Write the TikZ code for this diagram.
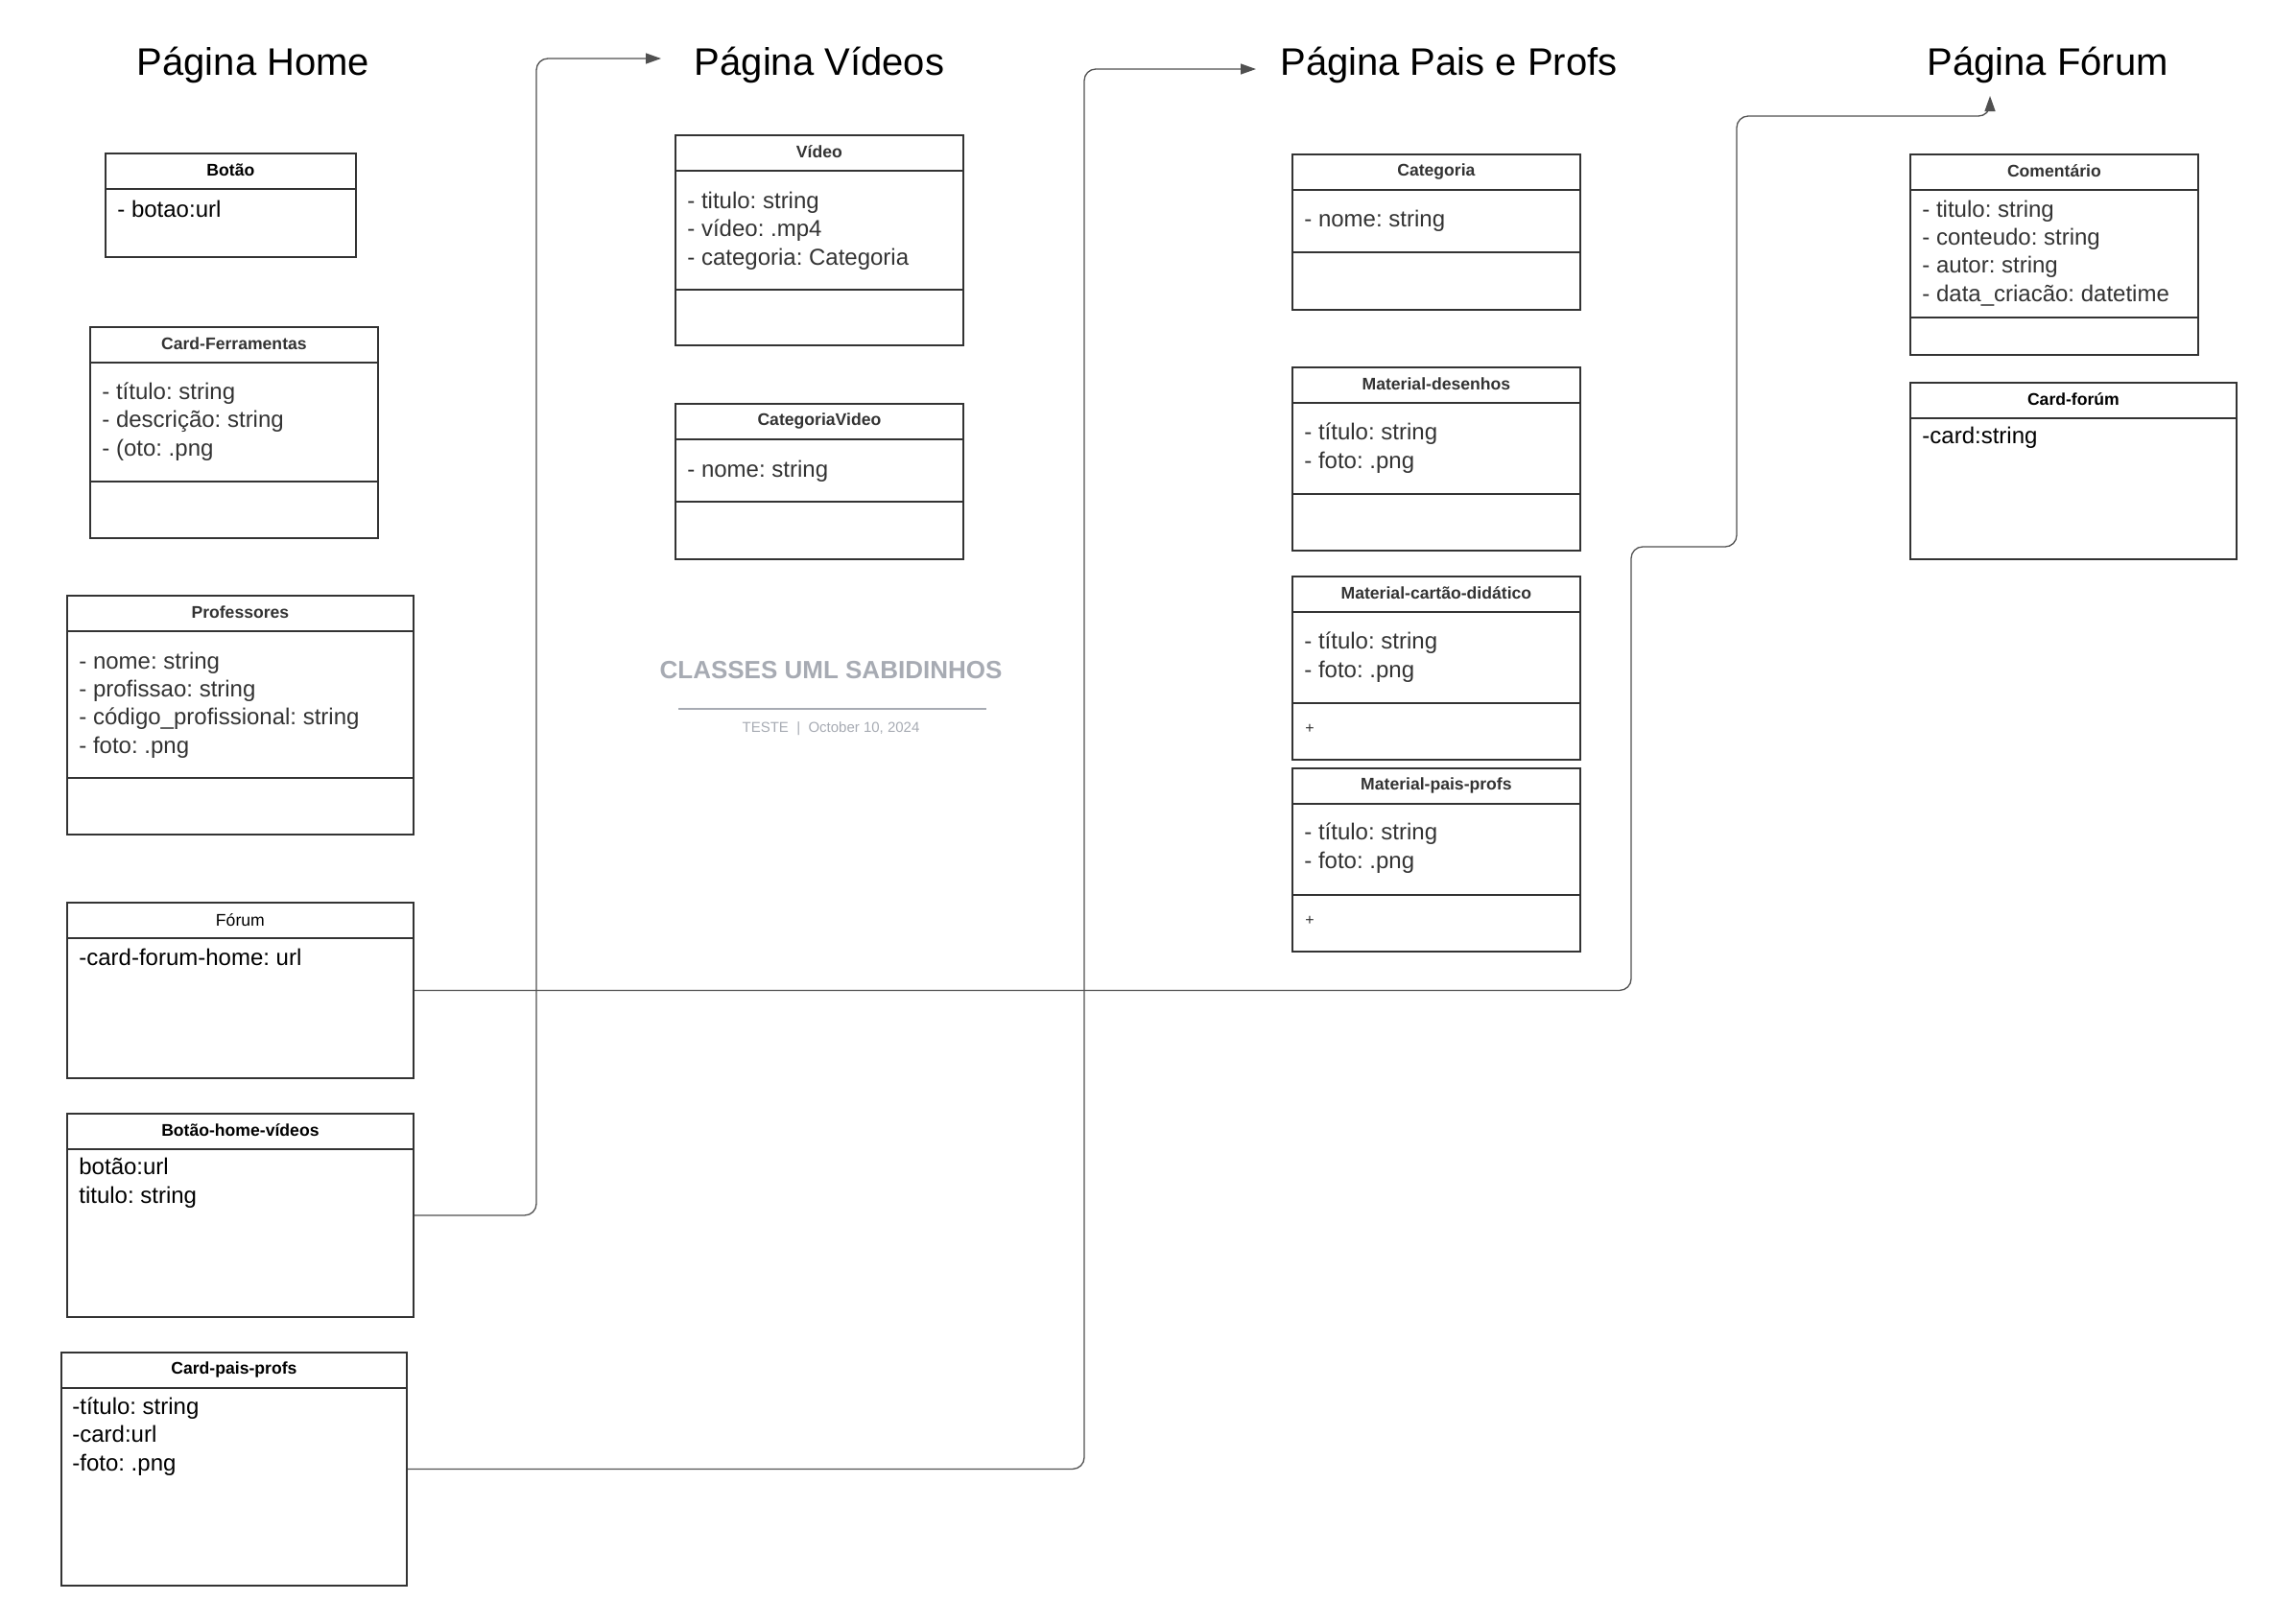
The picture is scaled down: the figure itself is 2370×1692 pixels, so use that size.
\documentclass[tikz,border=0pt]{standalone}
\usepackage{fontspec}
\setmainfont{Liberation Sans}
\usetikzlibrary{arrows.meta}
\frenchspacing

\definecolor{umlgray}{HTML}{333333}
\definecolor{linkgray}{HTML}{505050}
\definecolor{notegray}{HTML}{A7ABB3}

% class box: name, left, top, width, height, name style, class name
\newcommand{\umlclass}[7]{%
  \node[classbox, minimum width=#4*0.5pt, minimum height=#5*0.5pt] (#1) at (#2,#3) {};
  \draw[boxline] ([yshift=-19pt]#1.north west) -- ([yshift=-19pt]#1.north east);
  \node[#6] (#1-name) at ([yshift=-9.3pt]#1.north) {#7};
}
% second divider, offset from the top in px
\newcommand{\umlsplit}[2]{%
  \draw[boxline] ([yshift=-#2*0.5pt]#1.north west) -- ([yshift=-#2*0.5pt]#1.north east);
}

\begin{document}
\begin{tikzpicture}[x=0.5pt, y=-0.5pt,
  classbox/.style={draw=umlgray, line width=0.9pt, inner sep=0pt, anchor=north west},
  boxline/.style={draw=umlgray, line width=0.9pt},
  classname/.style={font=\fontsize{8.8pt}{10pt}\selectfont\bfseries, text=umlgray},
  % anchored at the baseline of the last line
  attrs/.style={anchor=base west, align=left, inner sep=0pt,
    font=\fontsize{12pt}{14.65pt}\selectfont, text=umlgray},
  method/.style={anchor=west, inner sep=0pt, font=\fontsize{8pt}{9pt}\selectfont, text=umlgray},
  pagetitle/.style={font=\fontsize{20pt}{24pt}\selectfont},
  link/.style={draw=linkgray, line width=0.65pt, rounded corners=6pt,
    -{Triangle[length=8pt, width=5.5pt]}}]
  \useasboundingbox (0,0) rectangle (2370,1692);

  % page titles
  \node[pagetitle] (home) at (264,68) {Página Home};
  \node[pagetitle] (videos) at (854,68) {Página Vídeos};
  \node[pagetitle] (pais) at (1510,68) {Página Pais e Profs};
  \node[pagetitle] (forumpage) at (2134,68) {Página Fórum};

  % Home
  \umlclass{botao}{109}{159}{261}{108}{classname, text=black}{Botão}
  \node[attrs, text=black] (botao-attrs) at (122,226) {- botao:url};

  \umlclass{cardferr}{93}{340}{300}{220}{classname}{Card-Ferramentas}
  \umlsplit{cardferr}{162}
  \node[attrs] (cardferr-attrs) at (106,475) {- título: string\\- descrição: string\\- (oto: .png};

  \umlclass{prof}{69}{620}{361}{249}{classname}{Professores}
  \umlsplit{prof}{191}
  \node[attrs] (prof-attrs) at (82,785) {- nome: string\\- profissao: string\\- código\_profissional: string\\- foto: .png};

  \umlclass{forum}{69}{940}{361}{183}{classname, font=\fontsize{8.8pt}{10pt}\selectfont, text=black}{Fórum}
  \node[attrs, text=black] (forum-attrs) at (82,1006) {-card-forum-home: url};

  \umlclass{botaohv}{69}{1160}{361}{212}{classname, text=black}{Botão-home-vídeos}
  \node[attrs, text=black] (botaohv-attrs) at (82,1254) {botão:url\\titulo: string};

  \umlclass{cardpp}{63}{1409}{360}{243}{classname, text=black}{Card-pais-profs}
  \node[attrs, text=black] (cardpp-attrs) at (75,1533) {-título: string\\-card:url\\-foto: .png};

  % Videos
  \umlclass{video}{703}{140}{300}{219}{classname}{Vídeo}
  \umlsplit{video}{162}
  \node[attrs] (video-attrs) at (716,276) {- titulo: string\\- vídeo: .mp4\\- categoria: Categoria};

  \umlclass{catvideo}{703}{420}{300}{162}{classname}{CategoriaVideo}
  \umlsplit{catvideo}{103}
  \node[attrs] (catvideo-attrs) at (716,497) {- nome: string};

  \node[font=\fontsize{13pt}{15pt}\selectfont\bfseries, text=notegray] (note) at (866,699) {CLASSES UML SABIDINHOS};
  \draw[notegray, line width=1pt] (707,739) -- (1028,739);
  \node[font=\fontsize{7.5pt}{9pt}\selectfont, text=notegray] (note-date) at (866,760) {TESTE \ | \ October 10, 2024};

  % Pais e Profs
  \umlclass{categoria}{1346}{160}{300}{162}{classname}{Categoria}
  \umlsplit{categoria}{103}
  \node[attrs] (categoria-attrs) at (1359,236) {- nome: string};

  \umlclass{matdes}{1346}{382}{300}{191}{classname}{Material-desenhos}
  \umlsplit{matdes}{133}
  \node[attrs] (matdes-attrs) at (1359,488) {- título: string\\- foto: .png};

  \umlclass{matcart}{1346}{600}{300}{191}{classname}{Material-cartão-didático}
  \umlsplit{matcart}{133}
  \node[attrs] (matcart-attrs) at (1359,706) {- título: string\\- foto: .png};
  \node[method] (matcart-ops) at (1360,760) {+};

  \umlclass{matpp}{1346}{800}{300}{191}{classname}{Material-pais-profs}
  \umlsplit{matpp}{133}
  \node[attrs] (matpp-attrs) at (1359,905) {- título: string\\- foto: .png};
  \node[method] (matpp-ops) at (1360,960) {+};

  % Forum
  \umlclass{coment}{1990}{160}{300}{209}{classname}{Comentário}
  \umlsplit{coment}{171}
  \node[attrs] (coment-attrs) at (2003,314) {- titulo: string\\- conteudo: string\\- autor: string\\- data\_criacão: datetime};

  \umlclass{cardforum}{1990}{398}{340}{184}{classname, text=black}{Card-forúm}
  \node[attrs, text=black] (cardforum-attrs) at (2003,462) {-card:string};

  % links to the pages
  \coordinate (videostip) at (689,61);
  \coordinate (paistip) at (1309,72);
  \coordinate (forumtip) at (2074,100);
  \draw[link] (botaohv.east) -| (559,61) -- (videostip);
  \draw[link] (cardpp.east) -| (1130,72) -- (paistip);
  \draw[link] (forum.east) -| (1700,570) -| (1810,121) -| (forumtip);
\end{tikzpicture}
\end{document}
